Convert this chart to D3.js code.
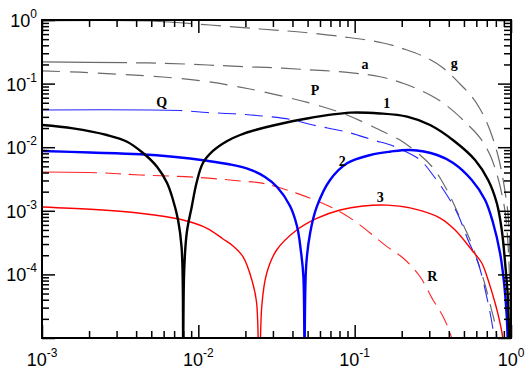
<!DOCTYPE html>
<html>
<head>
<meta charset="utf-8">
<script src="https://cdn.jsdelivr.net/npm/d3@7"></script>
<style>
  body { margin: 0; background: #fff; }
  svg { display: block; }
</style>
</head>
<body>
<svg id="chart"></svg>
<script>
// axis ranges and tick labels
const xDomain = [1e-3, 1];
const yDomain = [1e-5, 1];
const xTickExps = [-3, -2, -1, 0];
const yTickExps = [0, -1, -2, -3, -4];

// curves
const gX = [0.001, 0.00491, 0.0119, 0.0248, 0.0447, 0.0868, 0.152, 0.216, 0.290, 0.368, 0.472, 0.564, 0.634, 0.703, 0.768, 0.827, 0.877, 0.917, 0.958, 0.986, 0.998];
const gY = [0.97, 0.965, 0.834, 0.722, 0.647, 0.540, 0.435, 0.338, 0.253, 0.176, 0.0986, 0.0616, 0.0399, 0.0240, 0.01345, 0.00727, 0.00379, 0.00198, 0.000859, 0.000168, 0.000005];

const aX = [0.001, 0.0035, 0.00594, 0.01153, 0.0199, 0.0301, 0.0447, 0.0868, 0.1454, 0.210, 0.3037, 0.390, 0.524, 0.634, 0.735, 0.815, 0.877, 0.917, 0.958, 0.986, 0.998];
const aY = [0.219, 0.213, 0.209, 0.196, 0.184, 0.178, 0.168, 0.151, 0.128, 0.0986, 0.0662, 0.0445, 0.0232, 0.0140, 0.00753, 0.00366, 0.00177, 0.000958, 0.00029, 0.0000396, 0.000004];

const pX = [0.001, 0.00175, 0.00316, 0.00594, 0.01153, 0.0214, 0.0386, 0.0601, 0.0894, 0.131, 0.168, 0.195, 0.262, 0.318, 0.352, 0.407, 0.472, 0.547, 0.615, 0.683, 0.746, 0.803, 0.827];
const pY = [0.158, 0.151, 0.140, 0.127, 0.107, 0.0822, 0.0594, 0.0445, 0.0321, 0.0210, 0.01556, 0.01298, 0.00753, 0.00471, 0.00328, 0.00171, 0.00077, 0.000348, 0.000157, 0.0000681, 0.0000296, 0.0000134, 0.000005];

const qX = [0.001, 0.00764, 0.01138, 0.0177, 0.0260, 0.0386, 0.0542, 0.0894, 0.131, 0.168, 0.195, 0.262, 0.327, 0.396, 0.459, 0.531, 0.616, 0.700, 0.768, 0.800];
const qY = [0.0385, 0.0377, 0.0351, 0.0333, 0.0309, 0.0275, 0.0223, 0.0173, 0.01298, 0.0109, 0.00937, 0.0063, 0.00328, 0.00165, 0.000859, 0.000348, 0.000151, 0.0000441, 0.0000134, 0.000005];

const c1X = [0.001, 0.00158, 0.0026, 0.0035, 0.00443, 0.00544, 0.00631, 0.00689, 0.00742, 0.00781, 0.00795, 0.00800,
  0.00811, 0.00843, 0.00907, 0.00977, 0.0107, 0.0124, 0.0153, 0.0185, 0.0238, 0.0301, 0.0496, 0.0935, 0.1454, 0.2164, 0.3037, 0.439, 0.589, 0.714, 0.811, 0.873, 0.917, 0.954, 0.972, 0.985];
const c1Y = [0.0223, 0.0198, 0.01556, 0.0122, 0.0081, 0.00493, 0.00274, 0.00148, 0.000717, 0.00027, 0.0000733, 1e-7,
  0.000105, 0.000448, 0.00115, 0.00284, 0.00564, 0.00872, 0.01252, 0.01555, 0.01898, 0.02194, 0.02827, 0.0349, 0.0339, 0.0302, 0.0223, 0.0122, 0.00629, 0.00305, 0.001326, 0.000499, 0.000151, 0.0000441, 0.0000104, 0.000001];

const c2X = [0.001, 0.00203, 0.00424, 0.00689, 0.01138, 0.0160, 0.0214, 0.0267, 0.0319, 0.0386, 0.0429, 0.0452, 0.0470, 0.0478,
  0.0489, 0.0519, 0.0572, 0.0696, 0.0894, 0.126, 0.168, 0.226, 0.337, 0.427, 0.561, 0.683, 0.768, 0.851, 0.903, 0.940, 0.958];
const c2Y = [0.00871, 0.00825, 0.00773, 0.00706, 0.00611, 0.00535, 0.00446, 0.0034, 0.00237, 0.00119, 0.000556, 0.000242, 0.000091, 1e-7,
  0.000131, 0.000448, 0.00115, 0.00305, 0.00558, 0.00753, 0.00849, 0.00904, 0.00754, 0.00564, 0.00305, 0.00148, 0.000643, 0.000217, 0.0000733, 0.0000214, 0.000005];

const c3X = [0.001, 0.00203, 0.00424, 0.00764, 0.01137, 0.0144, 0.01667, 0.0193, 0.0220, 0.0236, 0.0245,
  0.02544, 0.0274, 0.0317, 0.0426, 0.0572, 0.0807, 0.113, 0.161, 0.226, 0.352, 0.439, 0.561, 0.650, 0.714, 0.791, 0.851, 0.889, 0.905];
const c3Y = [0.00115, 0.001057, 0.000914, 0.000735, 0.000531, 0.00036, 0.00028, 0.00019, 0.0000817, 0.0000355, 1e-7,
  0.000031, 0.000105, 0.000242, 0.000499, 0.000762, 0.00103, 0.00119, 0.00123, 0.00111, 0.00077, 0.000499, 0.000242, 0.000151, 0.0000817, 0.0000355, 0.0000172, 0.0000093, 0.000003];

const rX = [0.001, 0.00225, 0.00424, 0.00981, 0.0185, 0.0260, 0.0428, 0.0696, 0.0977, 0.1255, 0.161, 0.204, 0.262, 0.3174, 0.368, 0.4076, 0.427];
const rY = [0.00407, 0.00397, 0.00366, 0.00336, 0.00294, 0.0027, 0.00188, 0.00116, 0.000717, 0.000448, 0.000273, 0.000181, 0.000092, 0.0000396, 0.0000216, 0.000012, 0.000008];

// curve labels
const labelText = ['Q', 'a', 'g', 'P', '1', '2', '3', 'R'];
const labelX = [0.00583, 0.1165, 0.434, 0.0558, 0.1605, 0.0834, 0.146, 0.314];
const labelY = [0.0436, 0.1697, 0.1728, 0.065, 0.0413, 0.00506, 0.0014, 0.0000787];


const width = 531, height = 371;
const plotLeft = 42, plotRight = 511, plotTop = 20, plotBottom = 338;

const svg = d3.select('#chart')
  .attr('width', width)
  .attr('height', height)
  .style('background', '#fff');

const x = d3.scaleLog().domain(xDomain).range([plotLeft, plotRight]);
const y = d3.scaleLog().domain(yDomain).range([plotBottom, plotTop]);

svg.append('clipPath')
  .attr('id', 'plot-clip')
  .append('rect')
  .attr('x', plotLeft).attr('y', plotTop)
  .attr('width', plotRight - plotLeft).attr('height', plotBottom - plotTop);

const zip = (xs, ys) => xs.map((v, i) => [v, ys[i]]);

// lead = solid stretch at the left end before the dashes start
const series = [
  { data: zip(gX, gY), color: '#6a6a6a', width: 1.2, dash: [20, 9], lead: 150 },
  { data: zip(aX, aY), color: '#6a6a6a', width: 1.2, dash: [20, 9], lead: 85 },
  { data: zip(pX, pY), color: '#6a6a6a', width: 1.2, dash: [18, 10], lead: 0 },
  { data: zip(qX, qY), color: '#2424ff', width: 1.1, dash: [18, 9], lead: 140 },
  { data: zip(rX, rY), color: '#ff2424', width: 1.1, dash: [16, 8], lead: 55 },
  { data: zip(c3X, c3Y), color: '#ff0000', width: 1.4 },
  { data: zip(c2X, c2Y), color: '#0000ff', width: 2.4 },
  { data: zip(c1X, c1Y), color: '#000000', width: 2.4 },
];

const line = d3.line()
  .x(d => x(d[0]))
  .y(d => y(d[1]))
  .curve(d3.curveCatmullRom.alpha(0.5));

function dashPattern(s, total) {
  const out = [];
  let len = 0;
  if (s.lead) { out.push(s.lead, s.dash[1]); len = s.lead + s.dash[1]; }
  while (len < total) {
    out.push(s.dash[0], s.dash[1]);
    len += s.dash[0] + s.dash[1];
  }
  return out.join(',');
}

const curves = svg.append('g').attr('clip-path', 'url(#plot-clip)');
series.forEach(s => {
  const path = curves.append('path')
    .datum(s.data)
    .attr('fill', 'none')
    .attr('stroke', s.color)
    .attr('stroke-width', s.width)
    .attr('d', line);
  if (s.dash) path.attr('stroke-dasharray', dashPattern(s, path.node().getTotalLength()));
});

// curve labels
svg.append('g')
  .selectAll('text')
  .data(labelText)
  .join('text')
  .attr('x', (d, i) => x(labelX[i]))
  .attr('y', (d, i) => y(labelY[i]))
  .attr('text-anchor', 'middle')
  .attr('font-family', '"Liberation Serif", "Times New Roman", serif')
  .attr('font-weight', 'bold')
  .attr('font-size', 14)
  .text(d => d);

// ticks on all four sides, pointing inwards
const isMajor = v => Math.abs(Math.log10(v) - Math.round(Math.log10(v))) < 1e-9;
const xMajor = x.ticks().filter(isMajor);
const xMinor = x.ticks().filter(v => !isMajor(v));
const yMajor = y.ticks().filter(isMajor);
const yMinor = y.ticks().filter(v => !isMajor(v));

function addAxis(axis, tx, ty) {
  const g = svg.append('g')
    .attr('transform', `translate(${tx},${ty})`)
    .call(axis.tickFormat('').tickSizeOuter(0));
  g.select('.domain').remove();
  g.selectAll('.tick line').attr('stroke', '#000').attr('stroke-width', 1.5);
}

addAxis(d3.axisBottom(x).tickValues(xMajor).tickSizeInner(-13), 0, plotBottom);
addAxis(d3.axisBottom(x).tickValues(xMinor).tickSizeInner(-7), 0, plotBottom);
addAxis(d3.axisTop(x).tickValues(xMajor).tickSizeInner(-13), 0, plotTop);
addAxis(d3.axisTop(x).tickValues(xMinor).tickSizeInner(-7), 0, plotTop);
addAxis(d3.axisLeft(y).tickValues(yMajor).tickSizeInner(-13), plotLeft, 0);
addAxis(d3.axisLeft(y).tickValues(yMinor).tickSizeInner(-7), plotLeft, 0);
addAxis(d3.axisRight(y).tickValues(yMajor).tickSizeInner(-13), plotRight, 0);
addAxis(d3.axisRight(y).tickValues(yMinor).tickSizeInner(-7), plotRight, 0);

svg.append('rect')
  .attr('x', plotLeft).attr('y', plotTop)
  .attr('width', plotRight - plotLeft).attr('height', plotBottom - plotTop)
  .attr('fill', 'none')
  .attr('stroke', '#000')
  .attr('stroke-width', 2);

// tick labels: 10 with a raised exponent
const labelFont = '"Liberation Sans", Arial, sans-serif';

const xLabels = svg.append('g')
  .selectAll('text')
  .data(xTickExps)
  .join('text')
  .attr('x', d => x(Math.pow(10, d)))
  .attr('y', 366)
  .attr('text-anchor', 'middle')
  .attr('font-family', labelFont)
  .attr('font-size', 18)
  .text('10');
xLabels.append('tspan')
  .attr('dy', -9)
  .attr('font-size', 12)
  .text(d => d);

const yLabels = svg.append('g')
  .selectAll('text')
  .data(yTickExps)
  .join('text')
  .attr('x', 37)
  .attr('y', d => y(Math.pow(10, d)) + 7)
  .attr('text-anchor', 'end')
  .attr('font-family', labelFont)
  .attr('font-size', 18)
  .text('10');
yLabels.append('tspan')
  .attr('dy', -9)
  .attr('font-size', 12)
  .text(d => d);
</script>
</body>
</html>
